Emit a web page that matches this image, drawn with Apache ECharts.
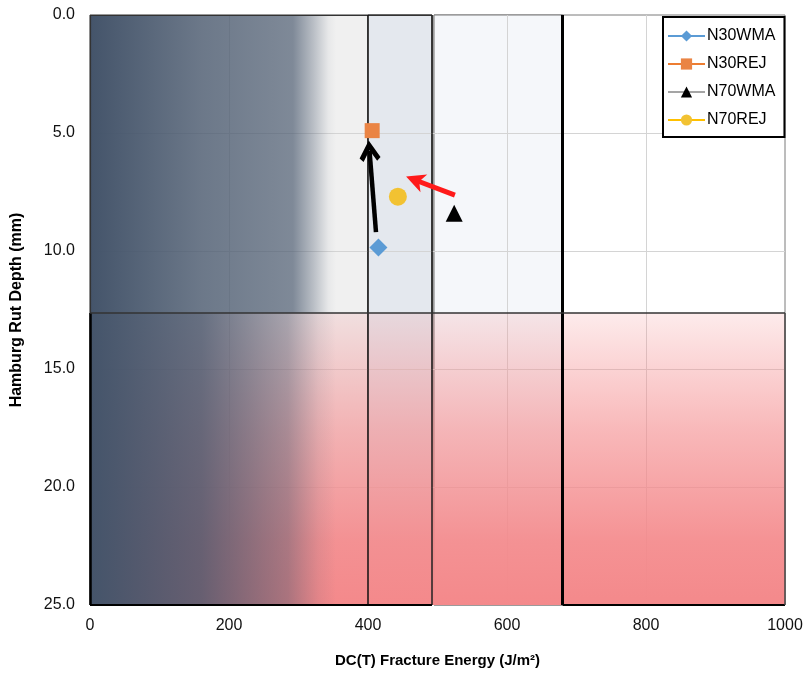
<!DOCTYPE html>
<html>
<head>
<meta charset="utf-8">
<script src="https://cdn.jsdelivr.net/npm/echarts@6/dist/echarts.min.js"></script>
<style>html,body{margin:0;padding:0;background:#fff}#chart{width:806px;height:673px}</style>
</head>
<body>
<div id="chart"></div>
<script>
// ---- data ----
const categories = ['N30WMA', 'N30REJ', 'N70WMA', 'N70REJ'];
const fractureEnergy = [415, 406, 524, 443];
const rutDepth = [9.85, 4.9, 8.4, 7.7];
const xTicks = [0, 200, 400, 600, 800, 1000];
const yTicks = [0, 5, 10, 15, 20, 25];
// zone boundaries (fracture energy) and rut-depth limit
const zoneEnergy = [0, 400, 492, 495, 680, 1000];
const blueFadeEnergy = 365;
const rutLimit = 12.63;
// annotation arrows: [tail, head]
const arrowBlack = [[411.5, 9.2], [402.2, 5.76]];
const arrowRed = [[525, 7.63], [467.6, 6.99]];

const FONT = 'Liberation Sans, Arial, sans-serif';
const chart = echarts.init(document.getElementById('chart'), null, {renderer: 'canvas'});

function rect(x1, y1, x2, y2, style) {
  return [{coord: [x1, y1], itemStyle: style}, {coord: [x2, y2]}];
}
function seg(x1, y1, x2, y2, color, width) {
  return [{coord: [x1, y1], lineStyle: {color: color, width: width, type: 'solid'}}, {coord: [x2, y2]}];
}
const yMin = yTicks[0], yMax = yTicks[yTicks.length - 1];
const xMin = xTicks[0], xMax = xTicks[xTicks.length - 1];
const B = (a) => 'rgba(68,84,106,' + a + ')';
const P = (a) => 'rgba(244,137,139,' + a + ')';

const markerStyle = [
  {symbol: 'diamond', size: 18, color: '#5b9bd5', line: '#5b9bd5'},
  {symbol: 'rect', size: 15, color: '#ea8444', line: '#ed7d31'},
  {symbol: 'triangle', size: 17, color: '#000000', line: '#a5a5a5'},
  {symbol: 'circle', size: 18, color: '#f2c232', line: '#ffc000'}
];

const pointSeries = categories.map((name, i) => ({
  name: name,
  type: 'line',
  z: 5,
  data: [[fractureEnergy[i], rutDepth[i]]],
  symbol: markerStyle[i].symbol,
  symbolSize: markerStyle[i].size,
  itemStyle: {color: markerStyle[i].color},
  lineStyle: {color: markerStyle[i].line, width: 2.5},
  label: {show: false}
}));

const option = {
  animation: false,
  backgroundColor: '#ffffff',
  grid: {left: 90, top: 15, right: 21, bottom: 68, containLabel: false},
  legend: {
    data: categories,
    orient: 'vertical',
    left: 663, top: 17,
    padding: [11, 9, 9, 4],
    itemGap: 12,
    itemWidth: 37,
    itemHeight: 14,
    backgroundColor: '#ffffff',
    borderColor: '#000000',
    borderWidth: 2,
    textStyle: {fontFamily: FONT, fontSize: 16, color: '#000000', padding: [0, 0, 0, -3]}
  },
  xAxis: {
    type: 'value', min: xMin, max: xMax, interval: 200,
    name: 'DC(T) Fracture Energy (J/m²)',
    nameLocation: 'middle', nameGap: 48,
    nameTextStyle: {fontFamily: FONT, fontSize: 15, fontWeight: 'bold', color: '#000'},
    axisLine: {show: false}, axisTick: {show: false},
    axisLabel: {fontFamily: FONT, fontSize: 16, color: '#111', margin: 13, formatter: v => String(v)},
    splitLine: {show: true, showMinLine: false, showMaxLine: false, lineStyle: {color: '#d4d4d4', width: 1}}
  },
  yAxis: {
    type: 'value', min: yMin, max: yMax, interval: 5, inverse: true,
    name: 'Hamburg Rut Depth (mm)',
    nameLocation: 'middle', nameGap: 65, nameRotate: 90,
    nameTextStyle: {fontFamily: FONT, fontSize: 16, fontWeight: 'bold', color: '#000'},
    axisLine: {show: false}, axisTick: {show: false},
    axisLabel: {fontFamily: FONT, fontSize: 16, color: '#111', margin: 15, formatter: v => v.toFixed(1)},
    splitLine: {show: true, showMinLine: false, showMaxLine: false, lineStyle: {color: '#d4d4d4', width: 1}}
  },
  series: [
    {
      name: 'zones', type: 'scatter', z: -5, data: [], silent: true,
      markArea: {
        silent: true, z: -5, label: {show: false},
        data: [
          rect(zoneEnergy[3], yMin, zoneEnergy[5], yMax, {color: '#ffffff', borderColor: '#7a7a7a', borderWidth: 1}),
          rect(zoneEnergy[3], yMin, zoneEnergy[4], yMax, {color: '#f5f7fa', borderColor: '#7a7a7a', borderWidth: 1}),
          rect(zoneEnergy[0], yMin, zoneEnergy[2], yMax, {color: '#f0f0f0', borderColor: '#333333', borderWidth: 1}),
          rect(zoneEnergy[1], yMin, zoneEnergy[2], yMax, {color: '#e4e8ee', borderColor: '#333333', borderWidth: 1})
        ]
      }
    },
    {
      name: 'overlays', type: 'scatter', z: 1, data: [], silent: true,
      markArea: {
        silent: true, z: 1, label: {show: false},
        data: [
          rect(zoneEnergy[0], rutLimit, zoneEnergy[5], yMax, {
            color: {type: 'linear', x: 0, y: 0, x2: 0, y2: 1, colorStops: [
              {offset: 0, color: P(0.17)}, {offset: 0.4, color: P(0.6)},
              {offset: 0.78, color: P(0.92)}, {offset: 1, color: P(1)}]}
          }),
          rect(zoneEnergy[0], yMin, blueFadeEnergy, rutLimit, {
            color: {type: 'linear', x: 0, y: 0, x2: 1, y2: 0, colorStops: [
              {offset: 0, color: B(1)}, {offset: 0.44, color: B(0.77)},
              {offset: 0.8, color: B(0.66)}, {offset: 0.88, color: B(0.32)},
              {offset: 0.94, color: B(0.05)}, {offset: 0.97, color: B(0)}, {offset: 1, color: B(0)}]}
          }),
          rect(zoneEnergy[0], rutLimit, blueFadeEnergy, yMax, {
            color: {type: 'linear', x: 0, y: 0, x2: 1, y2: 0, colorStops: [
              {offset: 0, color: B(1)}, {offset: 0.44, color: B(0.8)},
              {offset: 0.78, color: B(0.42)}, {offset: 0.9, color: B(0.1)},
              {offset: 0.97, color: B(0)}, {offset: 1, color: B(0)}]}
          })
        ]
      }
    },
    {
      name: 'borders', type: 'scatter', z: 3, data: [], silent: true,
      markLine: {
        silent: true, z: 3, symbol: ['none', 'none'], label: {show: false},
        data: [
          seg(zoneEnergy[0], yMin, zoneEnergy[2], yMin, '#333', 1.2),
          seg(zoneEnergy[0], yMin, zoneEnergy[0], rutLimit, '#333', 1.2),
          seg(zoneEnergy[0], rutLimit, zoneEnergy[0], yMax, '#000', 2.5),
          seg(zoneEnergy[1], yMin, zoneEnergy[1], yMax, '#111', 1.5),
          seg(zoneEnergy[2], yMin, zoneEnergy[2], yMax, '#222', 1.5),
          seg(zoneEnergy[4], yMin, zoneEnergy[4], yMax, '#000', 3),
          seg(zoneEnergy[0], rutLimit, zoneEnergy[5], rutLimit, '#333', 1.5),
          seg(zoneEnergy[0], yMax, zoneEnergy[2], yMax, '#000', 2),
          seg(zoneEnergy[4], yMax, zoneEnergy[5], yMax, '#000', 2),
          seg(zoneEnergy[5], rutLimit, zoneEnergy[5], yMax, '#444', 1.5)
        ]
      }
    },
    ...pointSeries,
    {
      name: 'arrows', type: 'scatter', z: 6, data: [], silent: true,
      markLine: {
        silent: true, z: 6, label: {show: false},
        data: [
          [{coord: arrowBlack[0], symbol: 'none', lineStyle: {color: '#000', width: 4.5, type: 'solid'}},
           {coord: arrowBlack[1], symbol: 'path://M10,0 L20,14 L16.5,17 L10,8 L3.5,17 L0,14 Z', symbolSize: 21}],
          [{coord: arrowRed[0], symbol: 'none', lineStyle: {color: '#ff1a1a', width: 5, type: 'solid'}},
           {coord: arrowRed[1], symbol: 'path://M10,0 L20,15 L10,11 L0,15 Z', symbolSize: 19}]
        ]
      }
    }
  ]
};
chart.setOption(option);
</script>
</body>
</html>
